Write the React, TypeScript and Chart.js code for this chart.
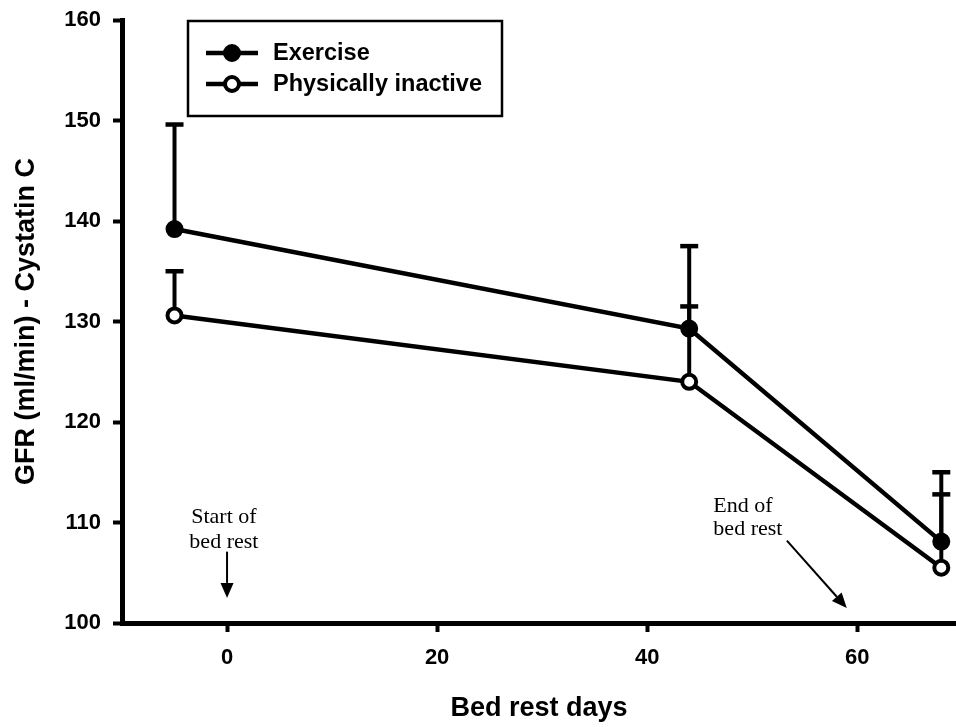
import { useEffect, useRef } from "react";
import { Chart, registerables } from "chart.js";

Chart.register(...registerables);

// ---- data ----
const days = [-5, 44, 68];
const seriesLabels = ["Exercise", "Physically inactive"];
const exerciseGFR = [139.2, 129.3, 108.1];
const exerciseErr = [10.4, 8.2, 6.9];
const inactiveGFR = [130.6, 124.0, 105.5];
const inactiveErr = [4.4, 7.5, 7.3];
const xTicks = [0, 20, 40, 60];
const yTicks = [100, 110, 120, 130, 140, 150, 160];
const xTitle = "Bed rest days";
const yTitle = "GFR (ml/min) - Cystatin C";
const startNote = ["Start of", "bed rest"];
const endNote = ["End of", "bed rest"];

const SANS = "'Liberation Sans', Arial, sans-serif";
const SERIF = "'Liberation Serif', 'Times New Roman', serif";

function drawArrow(ctx: CanvasRenderingContext2D, x1: number, y1: number, x2: number, y2: number) {
  const ang = Math.atan2(y2 - y1, x2 - x1);
  const head = 15;
  const half = 6.5;
  const bx = x2 - head * Math.cos(ang);
  const by = y2 - head * Math.sin(ang);
  ctx.beginPath();
  ctx.moveTo(x1, y1);
  ctx.lineTo(bx, by);
  ctx.stroke();
  ctx.beginPath();
  ctx.moveTo(x2, y2);
  ctx.lineTo(bx + half * Math.sin(ang), by - half * Math.cos(ang));
  ctx.lineTo(bx - half * Math.sin(ang), by + half * Math.cos(ang));
  ctx.closePath();
  ctx.fill();
}

const errorBarPlugin = {
  id: "errorBars",
  beforeDatasetsDraw(chart: any) {
    const { ctx, scales } = chart;
    const x = scales.x;
    const y = scales.y;
    ctx.save();
    ctx.strokeStyle = "#000";
    ctx.lineCap = "butt";
    const sets: [number[], number[]][] = [
      [exerciseGFR, exerciseErr],
      [inactiveGFR, inactiveErr],
    ];
    sets.forEach(([vals, errs]) => {
      vals.forEach((v, i) => {
        const px = x.getPixelForValue(days[i]);
        const y0 = y.getPixelForValue(v);
        const y1 = y.getPixelForValue(v + errs[i]);
        ctx.lineWidth = 4;
        ctx.beginPath();
        ctx.moveTo(px, y0);
        ctx.lineTo(px, y1);
        ctx.stroke();
        ctx.lineWidth = 4.5;
        ctx.beginPath();
        ctx.moveTo(px - 9, y1);
        ctx.lineTo(px + 9, y1);
        ctx.stroke();
      });
    });
    ctx.restore();
  },
};

const annotationPlugin = {
  id: "annotations",
  afterDraw(chart: any) {
    const { ctx, scales } = chart;
    const x = scales.x;
    const y = scales.y;
    ctx.save();
    ctx.fillStyle = "#000";
    ctx.strokeStyle = "#000";
    ctx.lineWidth = 2;
    ctx.font = `22px ${SERIF}`;
    ctx.textBaseline = "alphabetic";
    // start of bed rest
    ctx.textAlign = "center";
    ctx.fillText(startNote[0], x.getPixelForValue(-0.3), y.getPixelForValue(110.0));
    ctx.fillText(startNote[1], x.getPixelForValue(-0.3), y.getPixelForValue(107.5));
    drawArrow(ctx, x.getPixelForValue(0), y.getPixelForValue(107.1), x.getPixelForValue(0), y.getPixelForValue(102.5));
    // end of bed rest
    ctx.textAlign = "left";
    ctx.fillText(endNote[0], x.getPixelForValue(46.3), y.getPixelForValue(111.0));
    ctx.fillText(endNote[1], x.getPixelForValue(46.3), y.getPixelForValue(108.75));
    drawArrow(ctx, x.getPixelForValue(53.3), y.getPixelForValue(108.2), x.getPixelForValue(59.0), y.getPixelForValue(101.5));
    ctx.restore();
  },
};

const legendPlugin = {
  id: "boxLegend",
  afterDraw(chart: any) {
    const { ctx } = chart;
    ctx.save();
    ctx.strokeStyle = "#000";
    ctx.lineWidth = 2.5;
    ctx.strokeRect(188, 21, 314, 95);
    const rows = [53, 84];
    chart.data.datasets.forEach((ds: any, i: number) => {
      const yy = rows[i];
      ctx.lineWidth = 4.5;
      ctx.beginPath();
      ctx.moveTo(206, yy);
      ctx.lineTo(258, yy);
      ctx.stroke();
      ctx.beginPath();
      ctx.arc(232, yy, ds.pointRadius, 0, Math.PI * 2);
      ctx.fillStyle = ds.pointBackgroundColor;
      ctx.fill();
      ctx.lineWidth = ds.pointBorderWidth;
      ctx.stroke();
      ctx.fillStyle = "#000";
      ctx.font = `bold 23.5px ${SANS}`;
      ctx.textBaseline = "middle";
      ctx.textAlign = "left";
      ctx.fillText(ds.label, 273, yy + 1);
    });
    ctx.restore();
  },
};

export default function App() {
  const ref = useRef<HTMLCanvasElement | null>(null);

  useEffect(() => {
    if (!ref.current) return;
    const chart = new Chart(ref.current, {
      type: "line",
      data: {
        datasets: [
          {
            label: seriesLabels[0],
            data: days.map((d, i) => ({ x: d, y: exerciseGFR[i] })),
            borderColor: "#000",
            borderWidth: 4.5,
            pointRadius: 8,
            pointBackgroundColor: "#000",
            pointBorderColor: "#000",
            pointBorderWidth: 2,
            fill: false,
            tension: 0,
            clip: false as any,
          },
          {
            label: seriesLabels[1],
            data: days.map((d, i) => ({ x: d, y: inactiveGFR[i] })),
            borderColor: "#000",
            borderWidth: 4.5,
            pointRadius: 7,
            pointBackgroundColor: "#fff",
            pointBorderColor: "#000",
            pointBorderWidth: 4,
            fill: false,
            tension: 0,
            clip: false as any,
          },
        ],
      },
      options: {
        responsive: false,
        animation: false,
        devicePixelRatio: 1,
        layout: { autoPadding: false, padding: { top: 20, right: 0, bottom: 0, left: 0 } },
        plugins: {
          legend: { display: false },
          tooltip: { enabled: false },
        },
        scales: {
          x: {
            type: "linear",
            min: -10,
            max: 69.4,
            afterBuildTicks: (s: any) => {
              s.ticks = xTicks.map((v) => ({ value: v }));
            },
            afterFit: (s: any) => {
              s.height = 104;
              s.paddingLeft = 0;
              s.paddingRight = 0;
            },
            grid: {
              drawOnChartArea: false,
              drawTicks: true,
              tickLength: 9,
              tickWidth: 4,
              tickColor: "#000",
              color: "#000",
            },
            border: { display: true, color: "#000", width: 5 },
            ticks: {
              color: "#000",
              font: { family: SANS, size: 22, weight: "bold" },
              padding: 13,
              maxRotation: 0,
            },
            title: {
              display: true,
              text: xTitle,
              color: "#000",
              font: { family: SANS, size: 27, weight: "bold" },
              padding: { top: 0, bottom: 2 },
            },
          },
          y: {
            type: "linear",
            min: 100,
            max: 160,
            afterBuildTicks: (s: any) => {
              s.ticks = yTicks.map((v) => ({ value: v }));
            },
            afterFit: (s: any) => {
              s.width = 122;
              s.paddingTop = 0;
              s.paddingBottom = 0;
            },
            grid: {
              drawOnChartArea: false,
              drawTicks: true,
              tickLength: 9,
              tickWidth: 4,
              tickColor: "#000",
              color: "#000",
            },
            border: { display: true, color: "#000", width: 5 },
            ticks: {
              color: "#000",
              font: { family: SANS, size: 22, weight: "bold" },
              padding: 12,
            },
            title: {
              display: true,
              text: yTitle,
              color: "#000",
              font: { family: SANS, size: 27, weight: "bold" },
              padding: { top: 10, bottom: 0 },
            },
          },
        },
      } as any,
      plugins: [errorBarPlugin, annotationPlugin, legendPlugin],
    });
    return () => chart.destroy();
  }, []);

  return (
    <div style={{ position: "absolute", left: 0, top: 0, width: 956, height: 727, background: "#fff" }}>
      <canvas ref={ref} width={956} height={727} style={{ display: "block" }} />
    </div>
  );
}
